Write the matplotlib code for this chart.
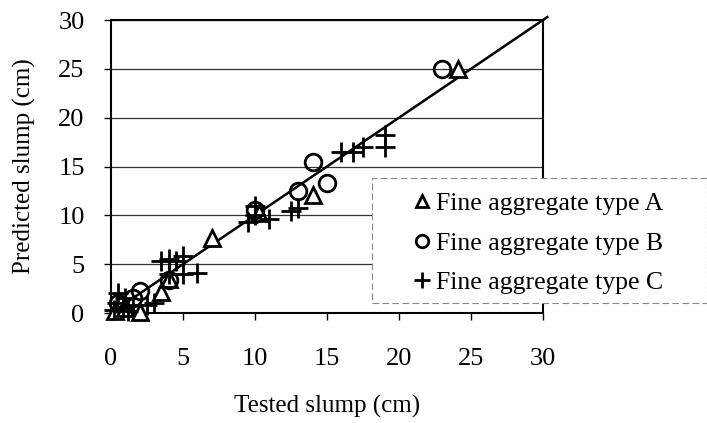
import matplotlib
matplotlib.use("Agg")
import matplotlib.pyplot as plt
from matplotlib.patches import Rectangle
from matplotlib.lines import Line2D

plt.rcParams['font.family'] = ['Liberation Serif', 'DejaVu Serif']

# Data (tested, predicted) in cm
a_tested = [0.3, 1.0, 2.0, 3.5, 4.0, 7.0, 10.3, 14.0, 24.1]
a_pred   = [0.2, 0.5, 0.1, 2.2, 3.5, 7.7, 10.2, 12.1, 25.0]
b_tested = [0.5, 1.5, 2.0, 4.0, 10.0, 13.0, 14.0, 15.0, 23.0]
b_pred   = [1.0, 1.5, 2.3, 3.4, 10.5, 12.5, 15.5, 13.3, 25.0]
c_tested = [0.2, 0.4, 0.5, 0.8, 1.0, 1.2, 1.5, 2.5, 3.0, 3.5, 4.0, 4.5, 4.0, 5.0, 5.0, 6.0,
            9.5, 10.0, 10.0, 11.0, 12.5, 13.0, 16.0, 16.8, 17.5, 19.0, 19.0]
c_pred   = [0.3, 1.0, 2.0, 0.5, 1.5, 0.2, 0.8, 0.8, 1.0, 5.3, 5.5, 5.3, 4.0, 4.0, 5.8, 4.1,
            9.3, 11.0, 10.0, 9.6, 10.4, 10.8, 16.5, 16.5, 17.0, 17.0, 18.2]
line_x = [0, 30.3]
ticks = [0, 5, 10, 15, 20, 25, 30]
labels = ["Fine aggregate type A", "Fine aggregate type B", "Fine aggregate type C"]

fig = plt.figure(figsize=(7.07, 4.23), dpi=100)
ax = fig.add_axes([111/707, 1-313/423, (543-111)/707, (313-20)/423])
ax.set_xlim(0, 30)
ax.set_ylim(0, 30)
ax.set_xticks(ticks)
ax.set_yticks(ticks)
ax.tick_params(labelsize=19, direction='out', length=5, width=1)
ax.tick_params(axis='x', pad=20)
ax.tick_params(axis='y', pad=14)
for s in ax.spines.values():
    s.set_linewidth(1.5)
ax.yaxis.grid(True, color='#333333', linewidth=0.9)
ax.set_axisbelow(True)

ax.plot(line_x, line_x, color='black', linewidth=1.8, clip_on=False, zorder=2)
ax.plot(a_tested, a_pred, linestyle='none', marker='^', markersize=11, markerfacecolor='white',
        markeredgecolor='black', markeredgewidth=2, zorder=3, clip_on=False)
ax.plot(b_tested, b_pred, linestyle='none', marker='o', markersize=12, markerfacecolor='none',
        markeredgecolor='black', markeredgewidth=2, zorder=3, clip_on=False)
ax.plot(c_tested, c_pred, linestyle='none', marker='+', markersize=15,
        markeredgecolor='black', markeredgewidth=2, zorder=3, clip_on=False)

ax.set_xlabel("Tested slump (cm)", fontsize=18, labelpad=18)
ax.set_ylabel("Predicted slump (cm)", fontsize=18, labelpad=16)

rect = Rectangle((372/707, 1-303/423), (707-372)/707, (303-178)/423, transform=fig.transFigure,
                 facecolor='white', edgecolor='#888888', linestyle=(0, (6, 3)), linewidth=0.8, zorder=5)
fig.patches.append(rect)

handles = [
    Line2D([], [], linestyle='none', marker='^', markersize=9, markerfacecolor='white',
           markeredgecolor='black', markeredgewidth=2),
    Line2D([], [], linestyle='none', marker='o', markersize=9, markerfacecolor='none',
           markeredgecolor='black', markeredgewidth=2),
    Line2D([], [], linestyle='none', marker='+', markersize=12, markeredgecolor='black',
           markeredgewidth=2),
]
leg = fig.legend(handles, labels, loc='upper left', bbox_to_anchor=(414/707, 1-192/423),
                 frameon=False, fontsize=18.5, handlelength=0.6, handletextpad=0.25,
                 labelspacing=0.65, borderaxespad=0, borderpad=0)
leg.set_zorder(6)

fig.savefig("out.png", dpi=100)
